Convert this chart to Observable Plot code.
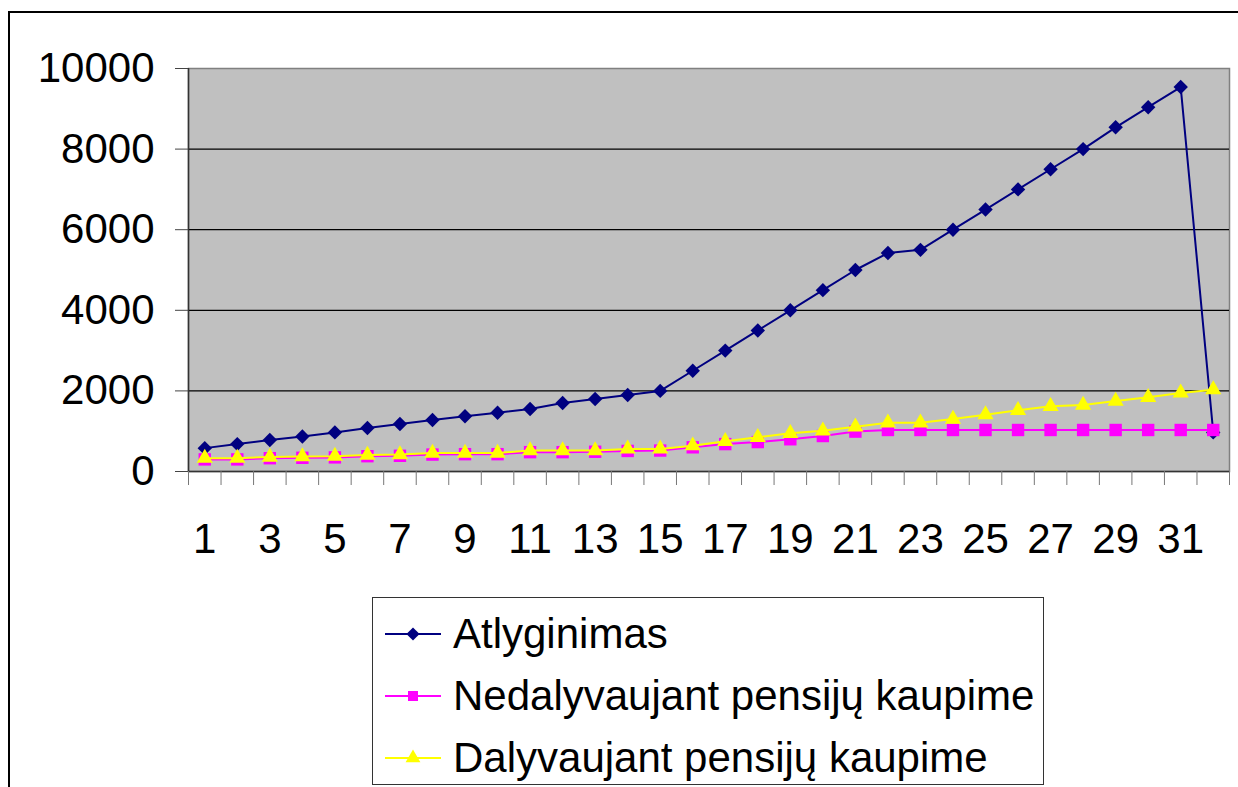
<!DOCTYPE html>
<html>
<head>
<meta charset="utf-8">
<script src="https://cdn.jsdelivr.net/npm/d3@7"></script>
<script src="https://cdn.jsdelivr.net/npm/@observablehq/plot@0.6"></script>
<style>
  html, body { margin: 0; padding: 0; background: #fff; }
  body { width: 1238px; height: 787px; overflow: hidden; position: relative; font-family: "Liberation Sans", Arial, sans-serif; }
  #frame { position: absolute; left: 8px; top: 11px; width: 1260px; height: 800px; border-left: 2px solid #000; border-top: 2px solid #000; box-sizing: border-box; }
  #chart { position: absolute; left: 0; top: 0; }
  #legend { position: absolute; left: 372px; top: 597px; width: 672px; height: 188px; border: 1px solid #333; box-sizing: border-box; background: #fff; }
  .item { position: absolute; left: 0; height: 50px; display: flex; align-items: center; }
  .item svg { margin-left: 12px; margin-right: 12px; }
  .item span { font-size: 42px; color: #000; white-space: nowrap; }
</style>
</head>
<body>
<div id="frame"></div>
<div id="chart"></div>
<div id="legend"></div>
<script>
// Data
const periods = d3.range(1, 33);
const atlyginimas = [580, 680, 780, 870, 970, 1080, 1180, 1280, 1370, 1460, 1550, 1700, 1800, 1900, 2000, 2500, 3000, 3500, 4000, 4500, 5000, 5420, 5500, 6000, 6500, 7000, 7500, 8000, 8540, 9040, 9540, 970];
const nedalyvaujant = [300, 300, 330, 340, 350, 380, 390, 420, 430, 430, 480, 480, 490, 510, 520, 600, 680, 730, 800, 880, 990, 1030, 1030, 1030, 1030, 1030, 1030, 1030, 1030, 1030, 1030, 1030];
const dalyvaujant = [330, 330, 360, 370, 380, 410, 420, 460, 460, 460, 520, 520, 520, 560, 560, 640, 750, 850, 950, 1010, 1110, 1210, 1210, 1300, 1410, 1520, 1620, 1650, 1750, 1840, 1950, 2030];
const seriesNames = ["Atlyginimas", "Nedalyvaujant pensijų kaupime", "Dalyvaujant pensijų kaupime"];
const seriesColors = ["#000080", "#FF00FF", "#FFFF00"];
const seriesSymbols = ["diamond2", "square", "triangle"];
const yTicks = [0, 2000, 4000, 6000, 8000, 10000];
const xLabelTicks = [1, 3, 5, 7, 9, 11, 13, 15, 17, 19, 21, 23, 25, 27, 29, 31];

const rows = (vals) => periods.map((p, i) => ({x: p, y: vals[i]}));
const dA = rows(atlyginimas), dN = rows(nedalyvaujant), dD = rows(dalyvaujant);
const boundaries = d3.range(0, 33).map(i => i + 0.5);

const font = "Liberation Sans, Arial, sans-serif";

const chart = Plot.plot({
  width: 1238,
  height: 600,
  marginLeft: 188,
  marginRight: 9,
  marginTop: 68,
  marginBottom: 129,
  style: {fontFamily: font, background: "transparent", overflow: "visible"},
  x: {type: "linear", domain: [0.5, 32.5], label: null},
  y: {domain: [0, 10000], label: null},
  marks: [
    Plot.frame({fill: "#C0C0C0", stroke: "#808080", strokeWidth: 1.5}),
    Plot.gridY(yTicks.filter(d => d > 0 && d < 10000), {stroke: "#000", strokeOpacity: 1, strokeWidth: 1.2}),
    Plot.ruleX([0.5], {stroke: "#333", strokeWidth: 1.5}),
    Plot.ruleY([0], {stroke: "#333", strokeWidth: 1.5}),
    Plot.axisY({ticks: yTicks, label: null, tickSize: 13, tickPadding: 21, fontSize: 42, stroke: "#444", tickFormat: d => String(d), color: "#000"}),
    Plot.axisX({ticks: boundaries, label: null, tickSize: 14, tickFormat: () => "", stroke: "#777"}),
    Plot.axisX({ticks: xLabelTicks, label: null, tickSize: 0, tickPadding: 52, fontSize: 42, tickFormat: d => String(d), color: "#000"}),
    Plot.line(dA, {x: "x", y: "y", stroke: seriesColors[0], strokeWidth: 2}),
    Plot.dot(dA, {x: "x", y: "y", symbol: seriesSymbols[0], r: 6.5, fill: seriesColors[0], stroke: "none"}),
    Plot.line(dN, {x: "x", y: "y", stroke: seriesColors[1], strokeWidth: 2}),
    Plot.dot(dN, {x: "x", y: "y", symbol: seriesSymbols[1], r: 7, fill: seriesColors[1], stroke: "none"}),
    Plot.line(dD, {x: "x", y: "y", stroke: seriesColors[2], strokeWidth: 2}),
    Plot.dot(dD, {x: "x", y: "y", symbol: seriesSymbols[2], r: 6, fill: seriesColors[2], stroke: "none"})
  ]
});
document.getElementById("chart").appendChild(chart);

// Legend
const legend = document.getElementById("legend");
const symPath = {
  diamond2: d3.symbol(d3.symbolDiamond2, 110)(),
  square: d3.symbol(d3.symbolSquare, 100)(),
  triangle: d3.symbol(d3.symbolTriangle, 95)()
};
const centers = [36, 98, 160];
seriesNames.forEach((name, i) => {
  const item = document.createElement("div");
  item.className = "item";
  item.style.top = (centers[i] - 25) + "px";
  item.innerHTML = `<svg width="56" height="24" viewBox="0 0 56 24">
      <line x1="0" y1="12" x2="56" y2="12" stroke="${seriesColors[i]}" stroke-width="2"/>
      <path d="${symPath[seriesSymbols[i]]}" transform="translate(28,12)" fill="${seriesColors[i]}"/>
    </svg><span>${name}</span>`;
  legend.appendChild(item);
});
</script>
</body>
</html>
